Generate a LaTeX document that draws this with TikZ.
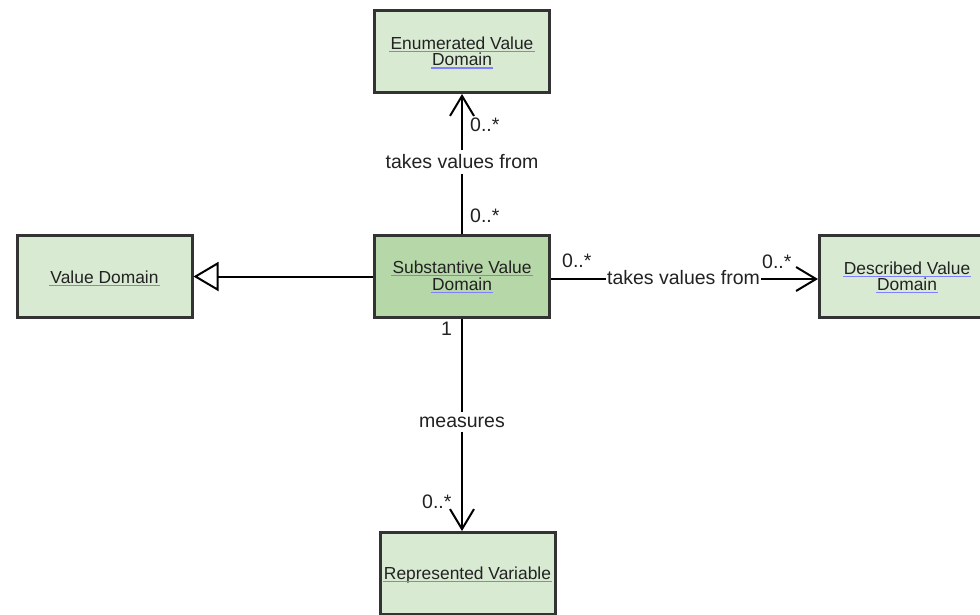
\documentclass[tikz,border=0pt]{standalone}
\usepackage{fontspec}
\setmainfont{Liberation Sans}
\usetikzlibrary{arrows.meta}
\definecolor{boxfill}{HTML}{D9EAD3}
\definecolor{boxfilldark}{HTML}{B6D7A8}
\definecolor{boxline}{HTML}{333333}
\definecolor{ulblue}{HTML}{7F7FFF}
\definecolor{txt}{HTML}{222222}
\begin{document}
\begin{tikzpicture}[x=1pt,y=-1pt,
  cls/.style={draw=boxline, line width=3pt, fill=boxfill, minimum width=175pt,
    minimum height=82pt, inner sep=0pt},
  clsname/.style={font=\fontsize{17.4}{16.4}\selectfont, text=txt, inner sep=0pt, anchor=base,
    append after command={([xshift=-1pt,yshift=-2.3pt]\tikzlastnode.base west)
      edge[draw=ulblue, line width=1.1pt]
      ([xshift=1pt,yshift=-2.3pt]\tikzlastnode.base east)}},
  conn/.style={line width=2pt, draw=black},
  lbl/.style={font=\fontsize{19.5}{22}\selectfont, text=txt, inner sep=0pt},
  onln/.style={lbl, fill=white, inner xsep=1.5pt, inner ysep=5pt},
  barb/.style={-{Straight Barb[length=20pt,width=24pt]}}
]
\useasboundingbox (0,0) rectangle (980,614);
\clip (0,0) rectangle (980,614);
\fill[white] (0,0) rectangle (980,614);

% classes
\node[cls] (enum) at (462,51.5) {};
\node[cls, fill=boxfilldark] (sub) at (462,276.5) {};
\node[cls] (vd) at (104.5,276.5) {};
\node[cls] (desc) at (907,276.5) {};
\node[cls] (rep) at (467.5,573.5) {};

% class names
\node[clsname] (enumt1) at (462,49.3) {Enumerated Value};
\node[clsname] (enumt2) at (462,65.7) {Domain};
\node[clsname] (subt1) at (462,273.5) {Substantive Value};
\node[clsname] (subt2) at (462,290) {Domain};
\node[clsname] (vdt) at (104.5,283) {Value Domain};
\node[clsname] (desct1) at (907,274) {Described Value};
\node[clsname] (desct2) at (907,290.5) {Domain};
\node[clsname] (rept) at (467.5,579) {Represented Variable};

% generalisation
\draw[conn, -{Triangle[open,length=25pt,width=29pt]}] (sub.west) -- (vd.east);

% takes values from (enumerated)
\draw[conn, barb] (sub.north) -- (enum.south);
\node[onln] (l1) at (462,162) {takes values from};
\node[lbl, anchor=base west] (m1a) at (470,131) {0..*};
\node[lbl, anchor=base west] (m1b) at (470,222) {0..*};

% takes values from (described)
\coordinate (se) at ([yshift=-2.5pt]sub.east);
\draw[conn, barb] (se) -- (desc.west |- se);
\node[onln, inner ysep=0pt, anchor=base] (l2) at (683.5,284) {takes values from};
\node[lbl, anchor=base west] (m2a) at (562,267) {0..*};
\node[lbl, anchor=base west] (m2b) at (762,268) {0..*};

% measures
\coordinate (rn) at (rep.north -| sub.south);
\draw[conn, barb] (sub.south) -- (rn);
\node[onln] (l3) at (462,422) {measures};
\node[lbl, anchor=base west] (m3a) at (441,335) {1};
\node[lbl, anchor=base west] (m3b) at (422,508) {0..*};
\end{tikzpicture}
\end{document}
